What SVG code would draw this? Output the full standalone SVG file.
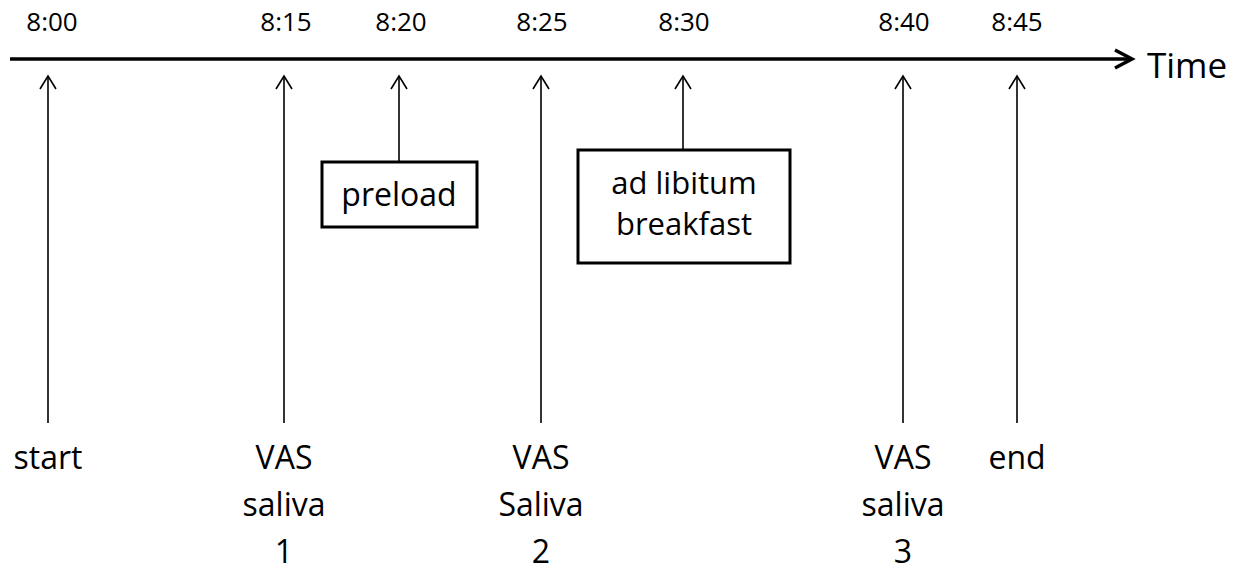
<svg xmlns="http://www.w3.org/2000/svg" width="1243" height="571" viewBox="0 0 1243 571">
  <style>
    text { font-family: "Open Sans", "Liberation Sans", sans-serif; fill: #000; text-anchor: middle; }
    .tick { font-size: 26px; }
    .lbl { font-size: 32px; }
    .blbl { font-size: 31px; }
    .box { fill: #fff; stroke: #000; stroke-width: 3; }
    .ar { stroke: #000; stroke-width: 1.6; fill: none; }
    .head { stroke: #000; stroke-width: 1.6; fill: none; }
    .axis { stroke: #000; stroke-width: 3.5; fill: none; }
  </style>
  <rect width="1243" height="571" fill="#fff"/>

  <g id="connectors">
    <line class="axis" x1="10" y1="59" x2="1130" y2="59"/>
    <polyline class="axis" points="1115,50 1132,59 1115,68" stroke-width="4"/>
    <g id="arrow-800"><line class="ar" x1="48" y1="76" x2="48" y2="423"/><polyline class="head" points="40,89 48,76 56,89"/></g>
    <g id="arrow-815"><line class="ar" x1="284" y1="76" x2="284" y2="423"/><polyline class="head" points="276,89 284,76 292,89"/></g>
    <g id="arrow-820"><line class="ar" x1="399" y1="76" x2="399" y2="162"/><polyline class="head" points="391,89 399,76 407,89"/></g>
    <g id="arrow-825"><line class="ar" x1="541" y1="76" x2="541" y2="423"/><polyline class="head" points="533,89 541,76 549,89"/></g>
    <g id="arrow-830"><line class="ar" x1="683" y1="76" x2="683" y2="150"/><polyline class="head" points="675,89 683,76 691,89"/></g>
    <g id="arrow-840"><line class="ar" x1="903" y1="76" x2="903" y2="423"/><polyline class="head" points="895,89 903,76 911,89"/></g>
    <g id="arrow-845"><line class="ar" x1="1017" y1="76" x2="1017" y2="423"/><polyline class="head" points="1009,89 1017,76 1025,89"/></g>
  </g>

  <g id="axis-label"><text x="1147" y="78" style="text-anchor:start;font-size:35px">Time</text></g>

  <g id="times">
    <text class="tick" x="52" y="31">8:00</text>
    <text class="tick" x="286" y="31">8:15</text>
    <text class="tick" x="401" y="31">8:20</text>
    <text class="tick" x="542" y="31">8:25</text>
    <text class="tick" x="684" y="31">8:30</text>
    <text class="tick" x="904" y="31">8:40</text>
    <text class="tick" x="1017" y="31">8:45</text>
  </g>

  <g id="node-preload">
    <rect class="box" x="322" y="162" width="155" height="65"/>
    <text class="lbl" x="399" y="206">preload</text>
  </g>

  <g id="node-breakfast">
    <rect class="box" x="578" y="150" width="212" height="113"/>
    <text class="blbl" x="684" y="194">ad libitum</text>
    <text class="blbl" x="684" y="235">breakfast</text>
  </g>

  <g id="node-start"><text class="lbl" x="48" y="469">start</text></g>
  <g id="node-vas1">
    <text class="lbl" x="284" y="469">VAS</text>
    <text class="lbl" x="284" y="516">saliva</text>
    <text class="lbl" x="284" y="563">1</text>
  </g>
  <g id="node-vas2">
    <text class="lbl" x="541" y="469">VAS</text>
    <text class="lbl" x="541" y="516">Saliva</text>
    <text class="lbl" x="541" y="563">2</text>
  </g>
  <g id="node-vas3">
    <text class="lbl" x="903" y="469">VAS</text>
    <text class="lbl" x="903" y="516">saliva</text>
    <text class="lbl" x="903" y="563">3</text>
  </g>
  <g id="node-end"><text class="lbl" x="1017" y="469">end</text></g>
</svg>
